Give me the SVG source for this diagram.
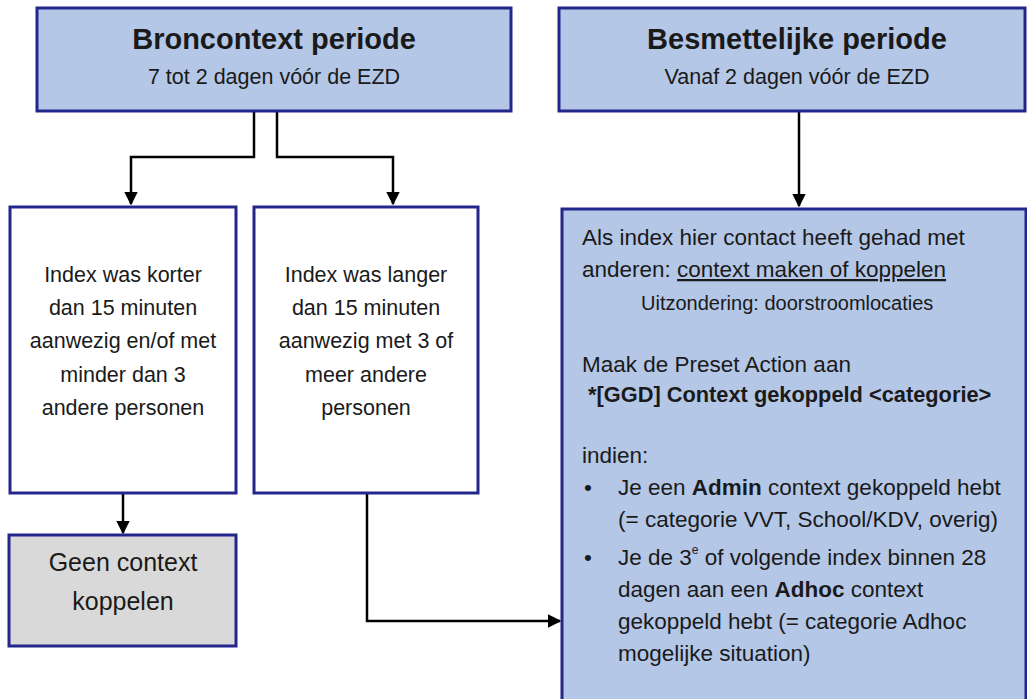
<svg xmlns="http://www.w3.org/2000/svg" width="1027" height="699" viewBox="0 0 1027 699">
<defs>
<style>
.blue{fill:#b4c7e7;stroke:#23278c;stroke-width:3}
.white{fill:#ffffff;stroke:#23278c;stroke-width:3}
.grey{fill:#d9d9d9;stroke:#23278c;stroke-width:3}
text{font-family:"Liberation Sans",Arial,sans-serif;fill:#1a1a1a}
.title{font-size:29px;font-weight:bold;text-anchor:middle}
.sub{font-size:21.5px;text-anchor:middle}
.mid{font-size:21.5px;text-anchor:middle}
.big{font-size:25px;text-anchor:middle}
.body{font-size:22.5px}
.bold{font-size:21.8px;font-weight:bold}
.small{font-size:20px}
.conn{fill:none;stroke:#000;stroke-width:2.5}
</style>
<marker id="arr" viewBox="0 0 10 10" refX="9" refY="5" markerWidth="5.5" markerHeight="5.5" orient="auto" markerUnits="strokeWidth">
<path d="M0,0 L10,5 L0,10 z" fill="#000"/>
</marker>
</defs>
<rect width="1027" height="699" fill="#ffffff"/>
<g id="connectors">
<path class="conn" d="M254,111 V157 H131 V204" marker-end="url(#arr)"/>
<path class="conn" d="M277,111 V157 H393 V204" marker-end="url(#arr)"/>
<path class="conn" d="M799,111 V206" marker-end="url(#arr)"/>
<path class="conn" d="M123,493 V533" marker-end="url(#arr)"/>
<path class="conn" d="M367,493 V621 H560" marker-end="url(#arr)"/>
</g>
<g id="broncontext">
<rect class="blue" x="37" y="8" width="474" height="103"/>
<text class="title" x="274" y="49">Broncontext periode</text>
<text class="sub" x="274" y="84">7 tot 2 dagen vóór de EZD</text>
</g>
<g id="besmettelijk">
<rect class="blue" x="559" y="8" width="466" height="103"/>
<text class="title" x="797" y="49">Besmettelijke periode</text>
<text class="sub" x="797" y="84">Vanaf 2 dagen vóór de EZD</text>
</g>
<g id="korter">
<rect class="white" x="10" y="207" width="226" height="286"/>
<text class="mid" x="123" y="282">Index was korter</text>
<text class="mid" x="123" y="315">dan 15 minuten</text>
<text class="mid" x="123" y="348">aanwezig en/of met</text>
<text class="mid" x="123" y="382">minder dan 3</text>
<text class="mid" x="123" y="415">andere personen</text>
</g>
<g id="langer">
<rect class="white" x="254" y="207" width="224" height="286"/>
<text class="mid" x="366" y="282">Index was langer</text>
<text class="mid" x="366" y="315">dan 15 minuten</text>
<text class="mid" x="366" y="348">aanwezig met 3 of</text>
<text class="mid" x="366" y="382">meer andere</text>
<text class="mid" x="366" y="415">personen</text>
</g>
<g id="geen">
<rect class="grey" x="9" y="535" width="227" height="111"/>
<text class="big" x="123" y="571">Geen context</text>
<text class="big" x="123" y="610">koppelen</text>
</g>
<g id="actie">
<rect class="blue" x="562" y="209" width="464" height="494"/>
<text class="body" x="582" y="245">Als index hier contact heeft gehad met</text>
<text class="body" x="582" y="277">anderen: <tspan text-decoration="underline">context maken of koppelen</tspan></text>
<text class="small" x="641" y="310">Uitzondering: doorstroomlocaties</text>
<text class="body" x="582" y="372">Maak de Preset Action aan</text>
<text class="bold" x="588" y="402">*[GGD] Context gekoppeld &lt;categorie&gt;</text>
<text class="body" x="582" y="463">indien:</text>
<text class="body" x="584" y="495">•</text>
<text class="body" x="618" y="495">Je een <tspan font-weight="bold">Admin</tspan> context gekoppeld hebt</text>
<text class="body" x="618" y="527">(= categorie VVT, School/KDV, overig)</text>
<text class="body" x="584" y="565">•</text>
<text class="body" x="618" y="565">Je de 3<tspan style="font-size:12px" dy="-11">e</tspan><tspan dy="11"> of volgende index binnen 28</tspan></text>
<text class="body" x="618" y="597">dagen aan een <tspan font-weight="bold">Adhoc</tspan> context</text>
<text class="body" x="618" y="629">gekoppeld hebt (= categorie Adhoc</text>
<text class="body" x="618" y="661">mogelijke situation)</text>
</g>
</svg>
